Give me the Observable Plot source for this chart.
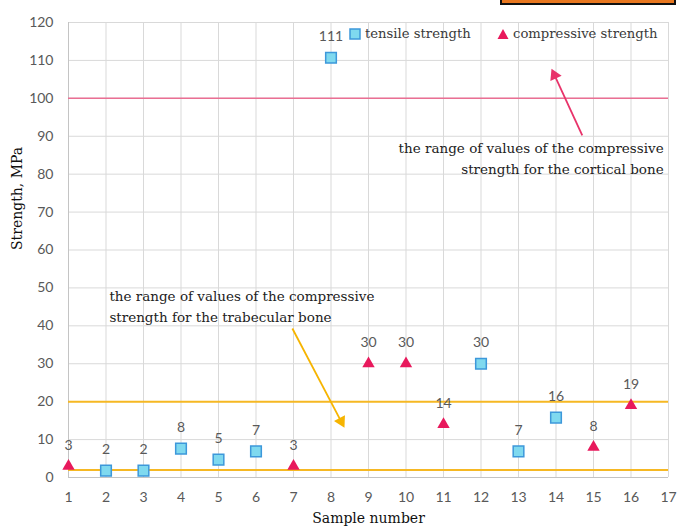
<!DOCTYPE html>
<html><head><meta charset="utf-8">
<script src="https://cdn.jsdelivr.net/npm/d3@7"></script>
<script src="https://cdn.jsdelivr.net/npm/@observablehq/plot@0.6"></script>
<style>
body{margin:0;background:#fff}
#wrap{position:relative;width:677px;height:532px;overflow:hidden}
#corner{position:absolute;left:500px;top:-4px;width:176px;height:9px;background:#e8771f;border:2px solid #111;box-sizing:border-box}
.leg{position:absolute;top:26px;font-family:"DejaVu Serif",serif;font-size:13.2px;color:#3a3a3a;white-space:nowrap;display:flex;align-items:center;gap:4px}
</style></head><body><div id="wrap"><div id="corner"></div></div>
<script>
// data
const tensileSamples = [2, 3, 4, 5, 6, 8, 12, 13, 14];
const tensileValues  = [1.8, 1.8, 7.6, 4.7, 6.9, 110.7, 30, 6.9, 15.8];
const tensileLabels  = ["2", "2", "8", "5", "7", "111", "30", "7", "16"];
const compSamples = [1, 7, 9, 10, 11, 15, 16];
const compValues  = [3, 3, 30, 30, 14, 8, 19];
const compLabels  = ["3", "3", "30", "30", "14", "8", "19"];
const xTicks = d3.range(1, 18);
const yTicks = d3.range(0, 121, 10);
const corticalLines = [100];
const trabecularLines = [2, 20];
// annotation arrows (shaft start, head centre, head rotation)
const arrowsCortical = [{x1: 14.7, y1: 90.2, x2: 13.96, y2: 106.1, angle: -24.8}];
const arrowsTrabecular = [{x1: 6.97, y1: 39.3, x2: 8.27, y2: 14.8, angle: 152.3}];
const notesLeft = [{x: 2.09, y: 45.6, text: "the range of values of the compressive\nstrength for the trabecular bone"}];
const notesRight = [{x: 16.87, y: 84.6, text: "the range of values of the compressive\nstrength for the cortical bone"}];

const tensile = tensileSamples.map((s, i) => ({sample: s, value: tensileValues[i], label: tensileLabels[i]}));
const comp = compSamples.map((s, i) => ({sample: s, value: compValues[i], label: compLabels[i]}));

const serif = "DejaVu Serif";
const pink = "#e8336a", orange = "#f6b400";
const chart = Plot.plot({
  width: 677, height: 532,
  marginLeft: 68, marginRight: 9, marginTop: 22, marginBottom: 55,
  x: {domain: [1, 17], label: null},
  y: {domain: [0, 120], label: null},
  style: {fontFamily: "Lato", fontSize: "14px", color: "#595959", background: "transparent"},
  marks: [
    Plot.gridX(xTicks, {stroke: "#d9d9d9", strokeOpacity: 1}),
    Plot.gridY(yTicks, {stroke: "#d9d9d9", strokeOpacity: 1}),
    Plot.ruleX([1], {stroke: "#c4c4c4"}),
    Plot.ruleY([0], {stroke: "#c4c4c4"}),
    Plot.axisX(xTicks, {tickSize: 0, tickPadding: 15, fill: "#595959", fontSize: 14, label: null}),
    Plot.axisY(yTicks, {tickSize: 0, tickPadding: 15, fill: "#595959", fontSize: 14, label: null}),
    Plot.ruleY(corticalLines, {stroke: "#ea6f93", strokeWidth: 1.5}),
    Plot.ruleY(trabecularLines, {stroke: "#f6b823", strokeWidth: 2}),
    Plot.link(arrowsCortical, {x1: "x1", y1: "y1", x2: "x2", y2: "y2", stroke: pink, strokeWidth: 1.8}),
    Plot.dot(arrowsCortical, {x: "x2", y: "y2", symbol: "triangle", r: 4.6, fill: pink, rotate: "angle"}),
    Plot.link(arrowsTrabecular, {x1: "x1", y1: "y1", x2: "x2", y2: "y2", stroke: orange, strokeWidth: 1.8}),
    Plot.dot(arrowsTrabecular, {x: "x2", y: "y2", symbol: "triangle", r: 4.6, fill: orange, rotate: "angle"}),
    Plot.text(notesLeft, {x: "x", y: "y", text: "text", textAnchor: "start", lineHeight: 1.6, fontFamily: serif, fontSize: 13.5, fill: "#222"}),
    Plot.text(notesRight, {x: "x", y: "y", text: "text", textAnchor: "end", lineHeight: 1.6, fontFamily: serif, fontSize: 13.5, fill: "#222"}),
    Plot.dot(tensile, {x: "sample", y: "value", symbol: "square", r: 6, fill: "#7fd9ef", stroke: "#3d98da", strokeWidth: 1.5}),
    Plot.dot(comp, {x: "sample", y: "value", symbol: "triangle", r: 4.6, fill: "#e8195c"}),
    Plot.text(tensile, {x: "sample", y: "value", text: "label", dy: -21, fontSize: 14, fill: "#595959"}),
    Plot.text(comp, {x: "sample", y: "value", text: "label", dy: -21, fontSize: 14, fill: "#595959"}),
    Plot.text(["Sample number"], {frameAnchor: "bottom", dy: 45, fontFamily: serif, fontSize: 14, fill: "#111"}),
    Plot.text(["Strength, MPa"], {frameAnchor: "left", dx: -51, rotate: -90, fontFamily: serif, fontSize: 14, fill: "#111"})
  ]
});
const wrap = document.getElementById("wrap");
wrap.appendChild(chart);
chart.style.position = "absolute"; chart.style.left = "0"; chart.style.top = "0";

// legend
const legendItems = [
  {label: "tensile strength", left: 349, svg: '<svg width="12" height="12"><rect x="1" y="1" width="10" height="10" fill="#7fd9ef" stroke="#3d98da" stroke-width="1.5"/></svg>'},
  {label: "compressive strength", left: 497, svg: '<svg width="12" height="12"><path d="M6,1L11.5,11H0.5Z" fill="#e8195c"/></svg>'}
];
legendItems.forEach(it => {
  const d = document.createElement("div");
  d.className = "leg"; d.style.left = it.left + "px";
  d.innerHTML = it.svg + "<span>" + it.label + "</span>";
  wrap.appendChild(d);
});
</script></body></html>
